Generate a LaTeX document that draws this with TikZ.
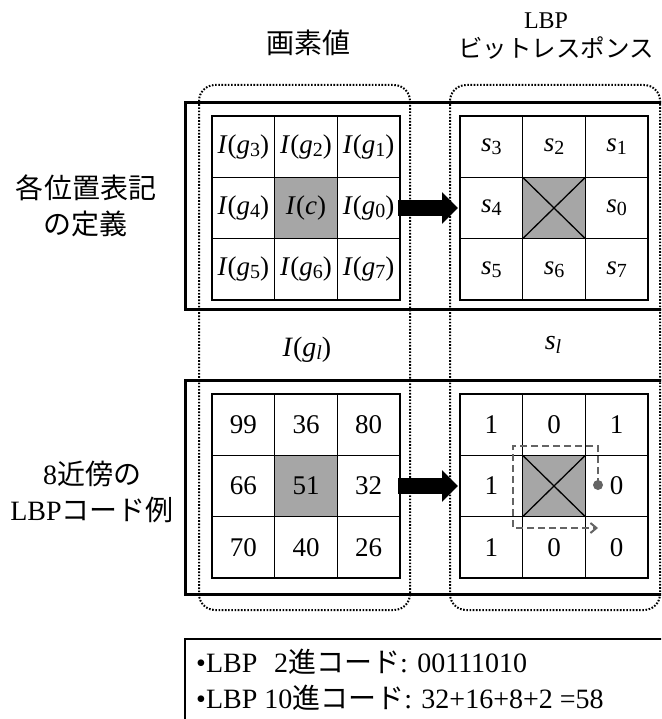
\documentclass[tikz,border=0pt]{standalone}
\usepackage{fontspec}
\setmainfont{Liberation Serif}
\newfontfamily\cjk{Noto Sans CJK JP}
\usetikzlibrary{arrows.meta}
\definecolor{cellgray}{RGB}{166,166,166}
\definecolor{dashgray}{RGB}{100,100,100}
\newcommand\lsb[1]{\raisebox{-0.25ex}{\fontsize{20}{20}\selectfont #1}}
\newcommand\Ig[1]{\textit{I}(\textit{g}\lsb{#1})}
\newcommand\Sv[1]{\textit{s}\lsb{#1}}
\tikzset{
  cell/.style={draw, line width=1.3pt, minimum width=62.67pt, minimum height=61.33pt,
    inner sep=0pt, outer sep=0pt, font=\fontsize{27}{27}\selectfont},
  ccell/.style={cell, fill=cellgray},
  thickbox/.style={draw, line width=3pt},
  dotbox/.style={draw, line width=2pt, dash pattern=on 1.6pt off 1.6pt, rounded corners=16pt},
  bigarrow/.style={line width=16pt, -{Triangle[length=16pt, width=31pt]}, shorten >=2pt, shorten <=-2pt},
  ttl/.style={font=\cjk\fontsize{28}{36}\selectfont, align=center, inner sep=0pt},
  dashpath/.style={draw=dashgray, line width=2pt, dash pattern=on 7pt off 4pt},
}
\begin{document}
\begin{tikzpicture}[x=1pt,y=-1pt]
\useasboundingbox (0,0) rectangle (661,719);
\clip (0,0) rectangle (661,719);
\fill[white] (0,0) rectangle (661,719);

% thick row boxes
\draw[thickbox] (185,103) rectangle (680,309);
\draw[thickbox] (185,380) rectangle (680,594);
% bottom text box
\draw[line width=1.5pt] (185,639) rectangle (680,740);

% dotted column boxes
\draw[dotbox] (199,85) rectangle (410,610);
\draw[dotbox] (450,85) rectangle (660,610);

% titles
\node[ttl] (t1) at (308,43) {画素値};
\node[font=\fontsize{24}{24}\selectfont, inner sep=0pt] (t2a) at (546,21) {LBP};
\node[font=\cjk\fontsize{24.5}{24.5}\selectfont, inner sep=0pt] (t2b) at (556,48) {ビットレスポンス};

% row labels
\node[ttl] (r1) at (86,206) {各位置表記\\の定義};
\node[ttl] (r2) at (92,492) {{\rmfamily 8}近傍の\\{\rmfamily LBP}コード例};

% top-left grid
\node[cell] (a11) at (243.33,146.67) {\Ig{3}};
\node[cell] (a12) at (306,146.67) {\Ig{2}};
\node[cell] (a13) at (368.67,146.67) {\Ig{1}};
\node[cell] (a21) at (243.33,208) {\Ig{4}};
\node[ccell] (a22) at (306,208) {\textit{I}(\textit{c})};
\node[cell] (a23) at (368.67,208) {\Ig{0}};
\node[cell] (a31) at (243.33,269.33) {\Ig{5}};
\node[cell] (a32) at (306,269.33) {\Ig{6}};
\node[cell] (a33) at (368.67,269.33) {\Ig{7}};

% top-right grid
\node[cell] (b11) at (491.33,146.67) {\Sv{3}};
\node[cell] (b12) at (554,146.67) {\Sv{2}};
\node[cell] (b13) at (616.67,146.67) {\Sv{1}};
\node[cell] (b21) at (491.33,208) {\Sv{4}};
\node[ccell] (b22) at (554,208) {};
\node[cell] (b23) at (616.67,208) {\Sv{0}};
\node[cell] (b31) at (491.33,269.33) {\Sv{5}};
\node[cell] (b32) at (554,269.33) {\Sv{6}};
\node[cell] (b33) at (616.67,269.33) {\Sv{7}};
\draw[line width=1.3pt] (b22.north west) -- (b22.south east) (b22.north east) -- (b22.south west);

% middle labels
\node[font=\fontsize{28}{28}\selectfont] (m1) at (307,350) {\textit{I}(\textit{g}\lsb{\textit{l}})};
\node[font=\fontsize{28}{28}\selectfont] (m2) at (553,345) {\textit{s}\lsb{\textit{l}}};

% bottom-left grid
\node[cell] (c11) at (243.33,424.67) {99};
\node[cell] (c12) at (306,424.67) {36};
\node[cell] (c13) at (368.67,424.67) {80};
\node[cell] (c21) at (243.33,486) {66};
\node[ccell] (c22) at (306,486) {51};
\node[cell] (c23) at (368.67,486) {32};
\node[cell] (c31) at (243.33,547.33) {70};
\node[cell] (c32) at (306,547.33) {40};
\node[cell] (c33) at (368.67,547.33) {26};

% bottom-right grid
\node[cell] (d11) at (491.33,424.67) {1};
\node[cell] (d12) at (554,424.67) {0};
\node[cell] (d13) at (616.67,424.67) {1};
\node[cell] (d21) at (491.33,486) {1};
\node[ccell] (d22) at (554,486) {};
\node[cell] (d23) at (616.67,486) {0};
\node[cell] (d31) at (491.33,547.33) {1};
\node[cell] (d32) at (554,547.33) {0};
\node[cell] (d33) at (616.67,547.33) {0};
\draw[line width=1.3pt] (d22.north west) -- (d22.south east) (d22.north east) -- (d22.south west);

% big arrows
\draw[bigarrow] (a23.east) -- (b21.west);
\draw[bigarrow] (c23.east) -- (d21.west);

% dashed scan path
\coordinate (p0) at (598,485);
\coordinate (p1) at (598,446);
\coordinate (p2) at (513,446);
\coordinate (p3) at (513,528);
\coordinate (p4) at (598,528);
\fill[dashgray] (p0) circle (5pt);
\draw[dashpath, -{Straight Barb[length=6pt,width=10pt]}] (p0) -- (p1) -- (p2) -- (p3) -- (p4);

% bottom text
\node[anchor=west, inner sep=0pt, font=\fontsize{28}{28}\selectfont] (l1) at (196,662) {\textbullet LBP\hspace{0.6em}2{\cjk 進コード}: 00111010};
\node[anchor=west, inner sep=0pt, font=\fontsize{28}{28}\selectfont] (l2) at (196,698) {\textbullet LBP 10{\cjk 進コード}: 32+16+8+2 =58};
\end{tikzpicture}
\end{document}
